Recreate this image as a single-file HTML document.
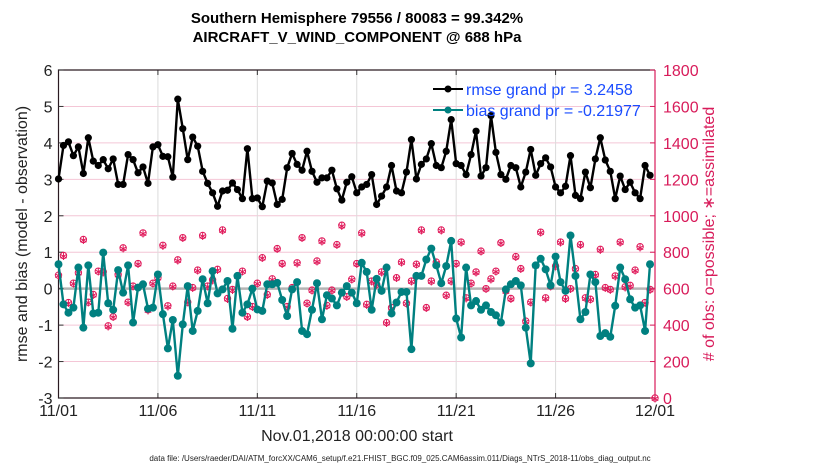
<!DOCTYPE html>
<html><head><meta charset="utf-8"><style>
body{margin:0;background:#fff;}
svg{display:block;font-family:"Liberation Sans",sans-serif;}
</style></head><body>
<svg id="chart" width="830" height="470" viewBox="0 0 830 470">
<text x="357" y="23" text-anchor="middle" font-size="15" font-weight="bold">Southern Hemisphere 79556 / 80083 = 99.342%</text>
<text x="357" y="42" text-anchor="middle" font-size="15" font-weight="bold">AIRCRAFT_V_WIND_COMPONENT @ 688 hPa</text>
<g id="grid"></g>
<g id="xaxis"></g>
<g id="yaxis"></g>
<g id="y2axis"></g>
<g id="series"></g>
<text x="0" y="0" transform="translate(27,234) rotate(-90)" text-anchor="middle" font-size="16" fill="#222">rmse and bias (model - observation)</text>
<text x="0" y="0" transform="translate(714,234) rotate(-90)" text-anchor="middle" font-size="16" fill="#d81b5a"># of obs: o=possible; ∗=assimilated</text>
<text x="357" y="441" text-anchor="middle" font-size="16" fill="#222">Nov.01,2018 00:00:00 start</text>
<text x="400" y="461" text-anchor="middle" font-size="8" fill="#222">data file: /Users/raeder/DAI/ATM_forcXX/CAM6_setup/f.e21.FHIST_BGC.f09_025.CAM6assim.011/Diags_NTrS_2018-11/obs_diag_output.nc</text>
<g>
<line x1="433" y1="89" x2="463" y2="89" stroke="#000" stroke-width="2"/>
<circle cx="448" cy="89" r="3.5" fill="#000"/>
<text x="466" y="95" font-size="16" fill="#1a4cff">rmse grand pr = 3.2458</text>
<line x1="433" y1="110" x2="463" y2="110" stroke="#008080" stroke-width="2"/>
<circle cx="448" cy="110" r="3.5" fill="#008080"/>
<text x="466" y="116" font-size="16" fill="#1a4cff">bias grand pr = -0.21977</text>
</g>
</svg>
<script>
const rmse=[3.01,3.93,4.03,3.65,3.89,3.16,4.14,3.5,3.38,3.54,3.29,3.56,2.86,2.86,3.68,3.54,3.18,3.34,2.89,3.89,3.95,3.63,3.62,3.06,5.2,4.39,3.54,4.16,3.91,3.22,2.89,2.63,2.26,2.68,2.7,2.9,2.72,2.47,3.84,2.47,2.49,
2.25,2.95,2.9,2.31,2.45,3.32,3.71,3.41,3.25,3.77,3.22,2.92,3.04,3.04,3.25,2.74,2.43,2.92,3.07,2.63,2.79,2.86,3.13,2.31,2.54,2.79,3.38,2.68,2.63,3.2,4.09,3.01,3.41,3.56,3.98,3.38,3.32,3.77,4.64,3.43,
3.38,3.13,3.68,4.32,3.09,3.32,4.75,3.74,3.13,3.0,3.38,3.32,2.79,3.2,3.82,3.11,3.43,3.59,3.34,2.79,2.63,2.81,3.65,2.56,2.47,3.2,2.77,3.56,4.14,3.53,3.22,2.47,3.09,2.72,2.92,2.63,2.47,3.38,3.11];
const bias=[0.67,-0.43,-0.66,-0.52,0.58,-1.07,0.64,-0.68,-0.66,0.99,-0.4,-0.58,0.51,-0.11,0.64,-0.93,0.03,0.12,-0.55,-0.52,0.39,-0.7,-1.64,-0.86,-2.39,-0.98,0.07,-1.16,-0.61,0.26,-0.4,0.48,-0.13,-0.02,0.21,-1.1,0.35,-0.66,-0.43,0,-0.57,
-0.61,0.12,0.12,0.16,-0.31,-0.75,-0.02,0.18,-1.16,-1.25,-0.58,0.15,-0.84,-0.18,-0.27,-0.46,-0.11,0.07,-0.11,-0.4,0.71,0.46,-0.58,0.27,-0.06,0.58,-0.68,-0.38,-0.09,-0.09,-1.66,0.35,0.35,0.8,1.1,0.64,0.15,0.62,1.31,-0.82,
-1.34,0.58,-0.46,-0.34,-0.58,-0.46,-0.64,-0.73,-0.93,-0.02,0.12,0.21,0.09,-1.07,-2.05,0.64,0.82,0.53,0.09,0.88,0.18,-0.06,1.46,0.35,-0.84,-0.64,0.39,0.18,-1.3,-1.22,-1.32,-0.47,0.58,0.26,-0.29,-0.52,-0.46,-1.16,0.67];
const nobs=[674,782,524,630,688,870,526,568,696,692,396,446,678,824,526,614,738,906,484,630,660,838,506,614,758,880,526,606,702,892,614,648,706,922,546,596,670,696,446,502,630,
770,568,654,820,738,502,606,742,880,520,592,752,862,508,592,842,948,556,652,738,906,514,642,624,692,414,496,660,746,520,642,734,922,496,642,746,922,564,642,738,
856,550,630,692,806,600,654,696,852,588,546,776,710,422,526,728,910,550,614,724,856,546,600,710,842,550,542,678,816,606,596,670,856,610,618,702,830,524,596,0];
const xTickLabels=["11/01","11/06","11/11","11/16","11/21","11/26","12/01"];
const yTicks=[-3,-2,-1,0,1,2,3,4,5,6];
const y2Ticks=[0,200,400,600,800,1000,1200,1400,1600,1800];

const NS="http://www.w3.org/2000/svg";
const L=58.5,R=655,T=70,B=398;
const xs=d=>L+(d/30)*(R-L);
const ys=v=>B-(v+3)/9*(B-T);
const y2s=v=>B-v/1800*(B-T);
function mk(tag,attrs,parent){const e=document.createElementNS(NS,tag);for(const k in attrs)e.setAttribute(k,attrs[k]);parent.appendChild(e);return e;}
const grid=document.getElementById('grid'),xa=document.getElementById('xaxis'),ya=document.getElementById('yaxis'),y2a=document.getElementById('y2axis'),ser=document.getElementById('series');
y2Ticks.forEach((t,i)=>{if(i===0||i===y2Ticks.length-1)return;
 const g=mk('line',{x1:L,x2:R,y1:y2s(t),y2:y2s(t),stroke:'#f4c6d6','stroke-width':1},grid);
 
 });
xTickLabels.forEach((t,i)=>{const x=xs(i*5);
 if(i>0&&i<6){const g=mk('line',{x1:x,x2:x,y1:T,y2:B,stroke:'#dcdcdc','stroke-width':1},grid);
 
 }
 const tk=mk('line',{x1:x,x2:x,y1:B,y2:B-5,stroke:'#333'},xa);
 
 
 const tk2=mk('line',{x1:x,x2:x,y1:T,y2:T+5,stroke:'#333'},xa);
 
 
 const lb=mk('text',{x:x,y:B+18,'text-anchor':'middle','font-size':16,fill:'#222'},xa);lb.textContent=t;
 
 });
const zl=mk('line',{x1:L,x2:R,y1:ys(0),y2:ys(0),stroke:'#b4b4b4','stroke-width':2.5},grid);


yTicks.forEach(t=>{const y=ys(t);
 const tk=mk('line',{x1:L,x2:L+5,y1:y,y2:y,stroke:'#333'},ya);
 
 
 const lb=mk('text',{x:L-6,y:y+6,'text-anchor':'end','font-size':16,fill:'#222'},ya);lb.textContent=t;
 
 });
y2Ticks.forEach(t=>{const y=y2s(t);
 const tk=mk('line',{x1:R,x2:R-5,y1:y,y2:y,stroke:'#d81b5a'},y2a);
 
 
 const lb=mk('text',{x:R+8,y:y+6,'font-size':16,fill:'#d81b5a'},y2a);lb.textContent=t;
 
 });
const f1=mk('path',{d:`M${R},${T}H${L}V${B}H${R}`,fill:'none',stroke:'#2a1a22','stroke-width':1.2},xa);


const f2=mk('line',{x1:R,x2:R,y1:T,y2:B,stroke:'#d81b5a','stroke-width':1.2},y2a);


nobs.forEach((v,i)=>{const x=xs(i*0.25),y=y2s(v);
 const c=mk('circle',{cx:x,cy:y,r:3.2,fill:'none',stroke:'#e0195a','stroke-width':1},ser);
 
 
 const s=mk('text',{x:x,y:y+4.5,'text-anchor':'middle','font-size':12,fill:'#e0195a'},ser);s.textContent='∗';
 
 });
function line(arr,col,name,rad){
 const d=arr.map((v,i)=>(i?'L':'M')+xs(i*0.25).toFixed(1)+','+ys(v).toFixed(1)).join('');
 const p=mk('path',{d:d,fill:'none',stroke:col,'stroke-width':2.4,'stroke-linejoin':'round'},ser);
 
 
 arr.forEach((v,i)=>{const c=mk('circle',{cx:xs(i*0.25),cy:ys(v),r:rad,fill:col},ser);
  
  });
}
line(bias,'#008080','bias',4);
line(rmse,'#000','rmse',3.6);
</script>
</body></html>
